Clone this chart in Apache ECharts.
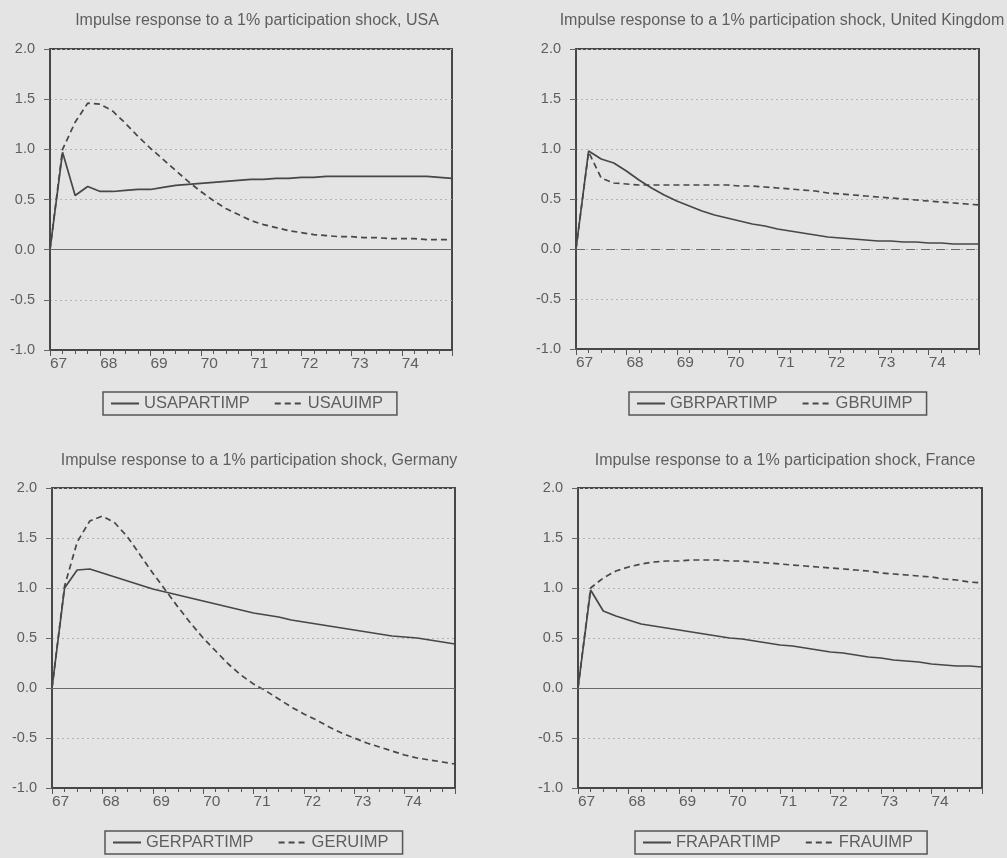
<!DOCTYPE html>
<html>
<head>
<meta charset="utf-8">
<script src="https://cdn.jsdelivr.net/npm/echarts@6/dist/echarts.min.js"></script>
<style>
html,body{margin:0;padding:0;background:#e4e4e4;}
#c{width:1007px;height:858px;}
</style>
</head>
<body>
<div id="c"></div>
<script>
// Quarterly horizon: 33 quarters, 1967Q1 .. 1975Q1 (index 0..32)
const quarterIndex = [0,1,2,3,4,5,6,7,8,9,10,11,12,13,14,15,16,17,18,19,20,21,22,23,24,25,26,27,28,29,30,31,32];
const yearLabels = ['67','68','69','70','71','72','73','74'];
const yTickLabels = ['-1.0','-0.5','0.0','0.5','1.0','1.5','2.0'];

const panelTitles = [
  'Impulse response to a 1% participation shock, USA',
  'Impulse response to a 1% participation shock, United Kingdom',
  'Impulse response to a 1% participation shock, Germany',
  'Impulse response to a 1% participation shock, France'
];
const partNames = ['USAPARTIMP','GBRPARTIMP','GERPARTIMP','FRAPARTIMP'];
const uNames = ['USAUIMP','GBRUIMP','GERUIMP','FRAUIMP'];

const usaPart = [0.00,0.97,0.54,0.63,0.58,0.58,0.59,0.60,0.60,0.62,0.64,0.65,0.66,0.67,0.68,0.69,0.70,0.70,0.71,0.71,0.72,0.72,0.73,0.73,0.73,0.73,0.73,0.73,0.73,0.73,0.73,0.72,0.71];
const usaU    = [0.00,1.00,1.27,1.46,1.45,1.38,1.26,1.13,1.01,0.90,0.79,0.68,0.58,0.49,0.41,0.35,0.29,0.25,0.22,0.19,0.17,0.15,0.14,0.13,0.13,0.12,0.12,0.11,0.11,0.11,0.10,0.10,0.10];
const gbrPart = [0.00,0.98,0.90,0.86,0.78,0.69,0.61,0.54,0.48,0.43,0.38,0.34,0.31,0.28,0.25,0.23,0.20,0.18,0.16,0.14,0.12,0.11,0.10,0.09,0.08,0.08,0.07,0.07,0.06,0.06,0.05,0.05,0.05];
const gbrU    = [0.00,0.97,0.71,0.66,0.65,0.64,0.64,0.64,0.64,0.64,0.64,0.64,0.64,0.63,0.63,0.62,0.61,0.60,0.59,0.58,0.56,0.55,0.54,0.53,0.52,0.51,0.50,0.49,0.48,0.47,0.46,0.45,0.44];
const gerPart = [0.00,1.00,1.18,1.19,1.15,1.11,1.07,1.03,0.99,0.96,0.93,0.90,0.87,0.84,0.81,0.78,0.75,0.73,0.71,0.68,0.66,0.64,0.62,0.60,0.58,0.56,0.54,0.52,0.51,0.50,0.48,0.46,0.44];
const gerU    = [0.00,1.02,1.46,1.67,1.72,1.65,1.51,1.33,1.15,0.98,0.81,0.65,0.50,0.37,0.24,0.13,0.04,-0.03,-0.11,-0.19,-0.26,-0.32,-0.39,-0.45,-0.50,-0.55,-0.59,-0.63,-0.67,-0.70,-0.72,-0.74,-0.76];
const fraPart = [0.00,0.98,0.77,0.72,0.68,0.64,0.62,0.60,0.58,0.56,0.54,0.52,0.50,0.49,0.47,0.45,0.43,0.42,0.40,0.38,0.36,0.35,0.33,0.31,0.30,0.28,0.27,0.26,0.24,0.23,0.22,0.22,0.21];
const fraU    = [0.00,1.00,1.10,1.17,1.21,1.24,1.26,1.27,1.27,1.28,1.28,1.28,1.27,1.27,1.26,1.25,1.24,1.23,1.22,1.21,1.20,1.19,1.18,1.17,1.15,1.14,1.13,1.12,1.11,1.09,1.08,1.06,1.05];

const partSeries = [usaPart, gbrPart, gerPart, fraPart];
const uSeries = [usaU, gbrU, gerU, fraU];

// layout
const grids = [
  {left:50, top:49, width:402, height:301},
  {left:576, top:49, width:403, height:300},
  {left:52, top:488, width:403, height:300},
  {left:578, top:488, width:404, height:300}
];
const titlePos = [
  {x:252, y:8}, {x:777, y:8}, {x:254, y:448}, {x:780, y:448}
];
const legendPos = [
  {x:103, y:392}, {x:629, y:392}, {x:105, y:831}, {x:635, y:831}
];
const zeroLineType = ['solid', [9,6], 'solid', 'solid'];

const ink = '#474747';
const textCol = '#5e5e5e';
const font = 'Liberation Sans, Arial, sans-serif';

const option = {
  backgroundColor: '#e4e4e4',
  animation: false,
  title: [], legend: [], grid: [], xAxis: [], yAxis: [], series: []
};

for (let p = 0; p < 4; p++) {
  const g = grids[p];
  option.grid.push({left:g.left, top:g.top, width:g.width, height:g.height,
    show:true, borderColor:'#474747', borderWidth:2, backgroundColor:'transparent'});
  option.title.push({
    text: panelTitles[p], left: titlePos[p].x, top: titlePos[p].y, textAlign: 'center',
    textStyle: {fontFamily: font, fontSize: 16, fontWeight: 'normal', color: textCol}
  });
  option.legend.push({
    data: [partNames[p], uNames[p]],
    left: legendPos[p].x, top: legendPos[p].y,
    orient: 'horizontal',
    borderColor: '#555', borderWidth: 1.5, borderRadius: 0,
    padding: [3, 14, 3, 7],
    itemGap: 24, itemWidth: 28, itemHeight: 12,
    itemStyle: {opacity: 0},
    textStyle: {fontFamily: font, fontSize: 16.5, color: textCol}
  });
  option.xAxis.push({
    type: 'value', gridIndex: p, min: 0, max: 32, interval: 4,
    axisLine: {show: true, onZero: false, lineStyle: {color: '#474747', width: 2}},
    axisTick: {show: true, inside: false, length: 6, lineStyle: {color: '#555', width: 1}},
    minorTick: {show: true, splitNumber: 4, length: 4, lineStyle: {color: '#555', width: 1}},
    splitLine: {show: false},
    axisLabel: {
      show: true, align: 'left', margin: 6, color: textCol, fontFamily: font, fontSize: 15.5,
      formatter: function (v) {
        const k = v / 4;
        return (Number.isInteger(k) && k < yearLabels.length) ? yearLabels[k] : '';
      }
    }
  });
  option.yAxis.push({
    type: 'value', gridIndex: p, min: -1, max: 2, interval: 0.5,
    axisLine: {show: true, lineStyle: {color: '#474747', width: 2}},
    axisTick: {show: true, inside: false, length: 6, lineStyle: {color: '#666', width: 1}},
    splitLine: {show: true, lineStyle: {color: '#b4b4b4', width: 1, type: [2, 3]}},
    axisLabel: {
      margin: 15, color: textCol, fontFamily: font, fontSize: 14.5,
      formatter: function (v) {
        const idx = Math.round((v + 1) / 0.5);
        return yTickLabels[idx] !== undefined ? yTickLabels[idx] : '';
      }
    }
  });
  option.series.push({
    name: partNames[p], type: 'line', xAxisIndex: p, yAxisIndex: p,
    data: quarterIndex.map((q, i) => [q, partSeries[p][i]]),
    symbol: 'none', smooth: false, color: ink,
    lineStyle: {color: ink, width: 1.7, type: 'solid'},
    markLine: {
      silent: true, symbol: 'none', label: {show: false},
      lineStyle: {color: '#6a6a6a', width: 1.2, type: zeroLineType[p]},
      data: [{yAxis: 0}]
    },
    z: 3
  });
  option.series.push({
    name: uNames[p], type: 'line', xAxisIndex: p, yAxisIndex: p,
    data: quarterIndex.map((q, i) => [q, uSeries[p][i]]),
    symbol: 'none', smooth: false, color: ink,
    lineStyle: {color: ink, width: 1.7, type: [6, 4]},
    z: 3
  });
}

const chart = echarts.init(document.getElementById('c'), null, {renderer: 'canvas'});
chart.setOption(option);
</script>
</body>
</html>
